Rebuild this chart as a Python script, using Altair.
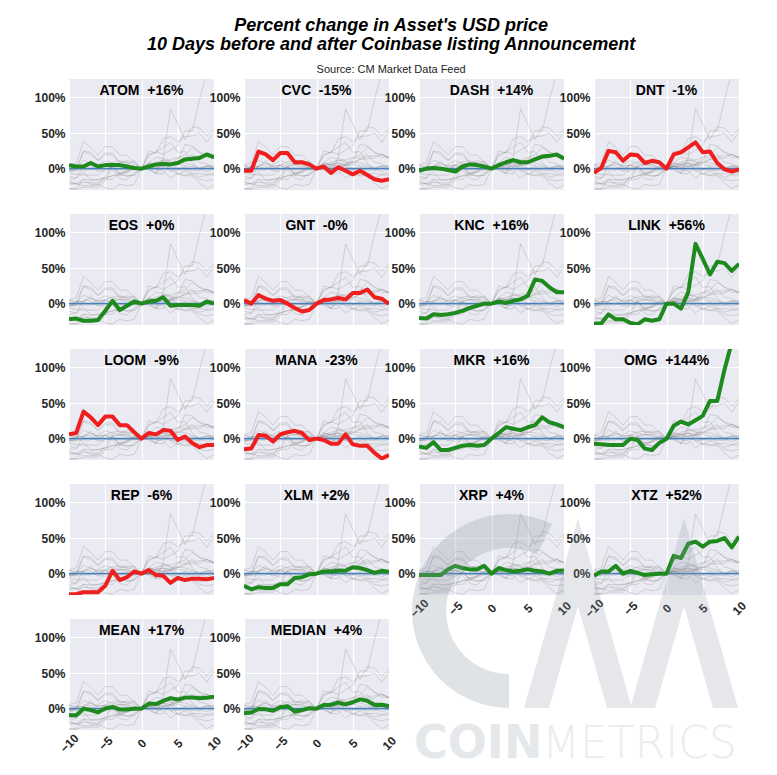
import math
import altair as alt
import numpy as np
import pandas as pd

# ---------------- data (percent change vs. listing day) ----------------
days = list(range(-10, 11))
assets = ["ATOM", "CVC", "DASH", "DNT", "EOS", "GNT", "KNC", "LINK",
          "LOOM", "MANA", "MKR", "OMG", "REP", "XLM", "XRP", "XTZ"]

atom = [5, 3, 3, 8, 3, 5, 5, 5, 3, 1, 0, 3, 6, 7, 6, 8, 13, 14, 15, 20, 16]
cvc = [-3, -3, 24, 20, 12, 22, 22, 9, 9, 6, 0, 3, -6, 2, -3, -8, -3, -9, -15, -17, -15]
dash = [-3, 0, 1, 0, -2, -4, 3, 6, 5, 3, 0, 5, 9, 12, 9, 9, 13, 17, 18, 20, 14]
dnt = [-6, 1, 25, 23, 11, 20, 19, 8, 11, 9, 0, 20, 23, 30, 37, 23, 24, 8, -1, -4, -1]
eos = [-22, -21, -24, -24, -23, -10, 4, -9, -3, 3, 0, 3, 4, 9, -3, -2, -2, -2, -3, 3, 0.2]
gnt = [5, 0, 12, 7, 4, 5, 0, -6, -11, -9, 0, 5, 6, 8, 6, 15, 15, 20, 9, 7, -0.3]
knc = [-20, -21, -15, -16, -15, -13, -10, -6, -3, 0, 0, 3, 1, 4, 6, 11, 34, 32, 23, 16, 16]
link = [-28, -28, -15, -22, -22, -27, -29, -22, -24, -22, 0, 0, -7, 16, 84, 63, 41, 59, 57, 46, 56]
loom = [6, 8, 38, 30, 19, 31, 31, 19, 19, 9, 0, 8, 6, 12, 11, -2, 3, -6, -12, -9, -9]
mana = [-15, -14, 5, 4, -4, 6, 9, 11, 8, -2, 0, -2, -7, -7, 6, -8, -10, -10, -20, -28, -23]
mkr = [-11, -13, -5, -16, -16, -13, -10, -9, -10, -9, 0, 8, 16, 14, 12, 16, 19, 30, 23, 20, 16]
omg = [-7, -8, -9, -9, -9, 0, -2, -14, -16, -6, 0, 18, 24, 20, 26, 32, 53, 53, 97, 135, 144]
rep = [-29, -29, -26, -26, -26, -17, 4, -9, -5, 3, 0, 5, -2, -3, -13, -6, -9, -7, -7, -8, -6]
xlm = [-17, -22, -19, -20, -20, -15, -15, -6, -5, -1, 0, 3, 3, 4, 4, 9, 8, 5, 1, 4, 2.5]
xrp = [-2, -2, -2, -2, 6, 11, 8, 6, 6, 11, 0, 8, 5, 3, 4, 6, 4, 3, 0, 4, 4.5]
xtz = [-3, 3, 3, 11, 0, 4, 1, -2, -1, 0, 0, 25, 22, 42, 45, 38, 45, 46, 50, 37, 52]

series = {"ATOM": atom, "CVC": cvc, "DASH": dash, "DNT": dnt, "EOS": eos,
          "GNT": gnt, "KNC": knc, "LINK": link, "LOOM": loom, "MANA": mana,
          "MKR": mkr, "OMG": omg, "REP": rep, "XLM": xlm, "XRP": xrp, "XTZ": xtz}

matrix = np.array([series[a] for a in assets], dtype=float)
panel_vals = dict(series)
panel_vals["MEAN"] = list(matrix.mean(axis=0))
panel_vals["MEDIAN"] = list(np.median(matrix, axis=0))
panels = assets + ["MEAN", "MEDIAN"]

bg_df = pd.DataFrame([{"asset": a, "day": d, "pct": v}
                      for a in assets for d, v in zip(days, series[a])])

# ---------------- styling ----------------
W, H = 145, 111
YDOM = [-30, 126]
GREEN = "#1e8a1e"
RED = "#f01f1f"
BLUE = "#4a80b8"
WM = "#8e98a3"
FONT = "Liberation Sans"


def make_panel(i, name):
    vals = panel_vals[name]
    final = float(vals[-1])
    color = GREEN if final >= 0 else RED
    label = f"{name}\u00a0\u00a0{final:+.0f}%"
    show_x = i >= 14

    x_axis = alt.Axis(values=[-10, -5, 0, 5, 10], labels=show_x, title=None,
                      labelAngle=-45, labelAlign="center", labelBaseline="middle",
                      labelPadding=13, grid=True, ticks=False, tickSize=0, domain=False)
    y_axis = alt.Axis(values=[0, 50, 100], labelExpr="datum.value + '%'", title=None,
                      grid=True, ticks=False, tickSize=0, domain=False, labelPadding=4)
    x = alt.X("day:Q", scale=alt.Scale(domain=[-10, 10], nice=False, zero=False), axis=x_axis)
    y = alt.Y("pct:Q", scale=alt.Scale(domain=YDOM, nice=False, zero=False), axis=y_axis)

    bg = alt.Chart(bg_df).mark_line(clip=True, strokeWidth=0.8, color="#6f6f6f",
                                    opacity=0.3).encode(x=x, y=y, detail="asset:N")
    zero = alt.Chart(pd.DataFrame({"pct": [0]})).mark_rule(
        color=BLUE, strokeWidth=1.8).encode(y=y)
    fg_df = pd.DataFrame({"day": days, "pct": vals})
    fg = alt.Chart(fg_df).mark_line(clip=True, strokeWidth=4, color=color,
                                    strokeJoin="round").encode(x=x, y=y)
    ttl = alt.Chart(pd.DataFrame({"label": [label]})).mark_text(
        font=FONT, fontSize=14, fontWeight="bold", color="black",
        baseline="middle", align="center").encode(
        x=alt.value(W / 2), y=alt.value(12), text="label:N")
    return alt.layer(bg, zero, fg, ttl).properties(width=W, height=H)


charts = [make_panel(i, n) for i, n in enumerate(panels)]

# ---------------- watermark (CoinMetrics logo) ----------------
one = alt.Chart(pd.DataFrame({"k": [0]}))
c_arc = one.mark_arc(theta=math.pi, theta2=2 * math.pi + 0.46, radius=97, radius2=63,
                     color=WM, opacity=0.27).encode(x=alt.value(90), y=alt.value(-8))
m_df = pd.DataFrame({
    "px": [105, 130, 159, 188, 212, 236, 265, 294, 319],
    "top": [89, 1, -101, 1, 86, 1, -101, 1, 89],
    "bot": [89, 89, -13, 89, 89, 89, -13, 89, 89],
})
m_shape = alt.Chart(m_df).mark_area(color=WM, opacity=0.23).encode(
    x=alt.X("px:Q", scale=None, axis=None),
    y=alt.Y("top:Q", scale=None, axis=None),
    y2="bot:Q")
coin = alt.Chart(pd.DataFrame({"t": ["COIN"]})).mark_text(
    font="DejaVu Sans", fontSize=46, fontWeight="bold", color=WM, opacity=0.22,
    align="left", baseline="alphabetic").encode(x=alt.value(-5), y=alt.value(139), text="t:N")
metrics = alt.Chart(pd.DataFrame({"t": ["METRICS"]})).mark_text(
    font="DejaVu Sans", fontSize=44, fontWeight=200, color=WM, opacity=0.18,
    align="left", baseline="alphabetic").encode(x=alt.value(123), y=alt.value(139), text="t:N")
watermark = alt.layer(c_arc, m_shape, coin, metrics).properties(
    width=W, height=H, view=alt.ViewBackground(fill="white", fillOpacity=0, strokeOpacity=0))
charts.append(watermark)

chart = alt.concat(*charts, columns=4, spacing={"row": 24, "column": 30}).properties(
    bounds="flush",
    padding={"left": 26, "top": 9, "right": 5, "bottom": 5},
    title=alt.TitleParams(
        text=["Percent change in Asset's USD price",
              "10 Days before and after Coinbase listing Announcement"],
        subtitle="Source: CM Market Data Feed",
        font=FONT, fontSize=18, fontStyle="italic", fontWeight="bold", color="black",
        lineHeight=19, anchor="middle", frame="bounds", offset=4,
        subtitleFont=FONT, subtitleFontSize=11, subtitleColor="#222222",
        subtitlePadding=10),
).configure_view(
    fill="#EAEAF2", strokeWidth=0
).configure_axis(
    gridColor="white", gridWidth=1.2, labelFont=FONT, labelFontSize=12,
    labelFontWeight="bold", labelColor="#262626"
)

chart.save("out.html", embed_options={"renderer": "svg", "actions": False})
